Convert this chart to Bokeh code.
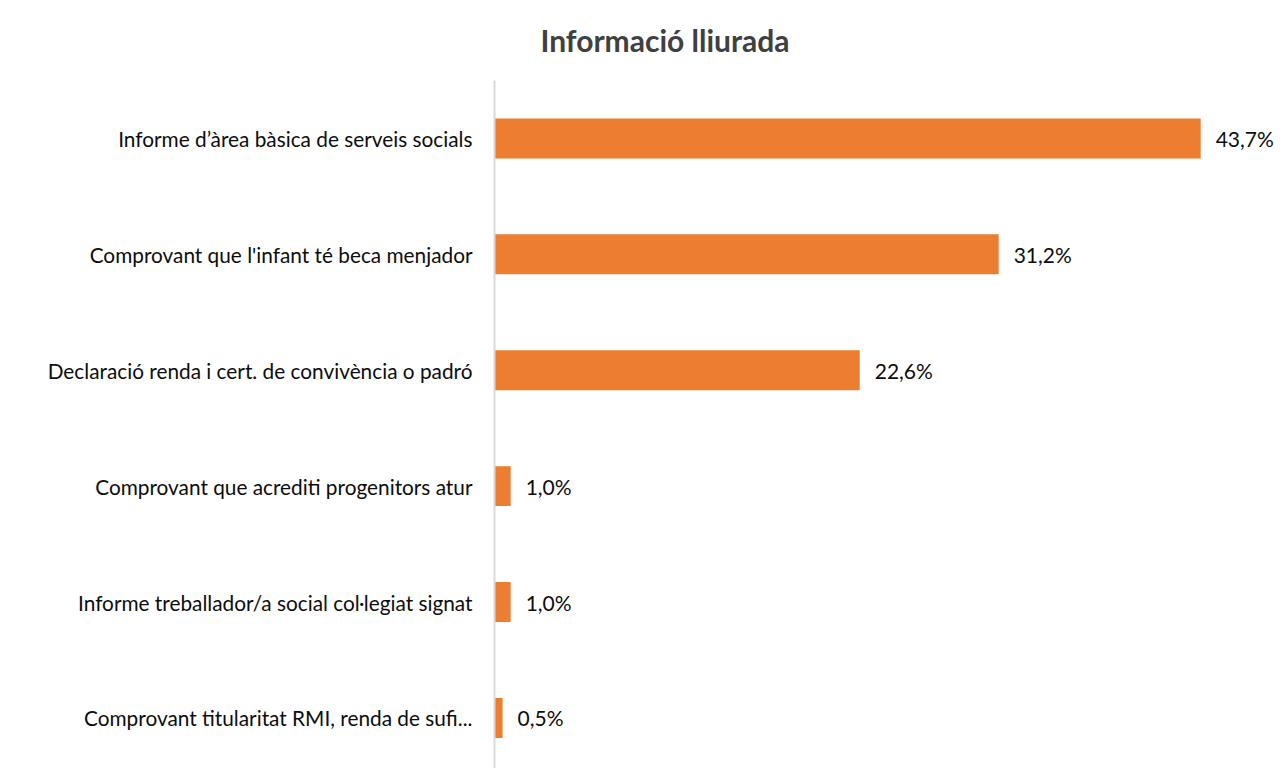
from bokeh.plotting import figure
from bokeh.models import ColumnDataSource, Range1d, FixedTicker, Title
from bokeh.core.properties import value
from bokeh.embed import file_html
from bokeh.resources import INLINE

categories = [
    "Informe d’àrea bàsica de serveis socials",
    "Comprovant que l'infant té beca menjador",
    "Declaració renda i cert. de convivència o padró",
    "Comprovant que acrediti progenitors atur",
    "Informe treballador/a social col·legiat signat",
    "Comprovant titularitat RMI, renda de sufi...",
]
values = [43.7, 31.2, 22.6, 1.0, 1.0, 0.5]
value_labels = ["43,7%", "31,2%", "22,6%", "1,0%", "1,0%", "0,5%"]
title_text = "Informació lliurada"

FONT = "Lato"
pos = list(range(len(categories)))
src = ColumnDataSource(dict(y=pos, v=values, lab=value_labels))

W, H = 1280, 768
left = 494
top = 77
frame_w = W - left
px_per = 16.16
frame_h = H - top
unit_px = 116.4

p = figure(width=W, height=H, output_backend="svg", toolbar_location=None,
           x_range=Range1d(0, frame_w / px_per),
           y_range=Range1d(-0.5 + frame_h / unit_px, -0.5),
           min_border_left=left, min_border_right=0, min_border_top=top,
           min_border_bottom=0, title=None)

p.hbar(y="y", left=0, right="v", height=0.345, source=src,
       fill_color="#ED7D31", line_color=None)
p.text(x="v", y="y", text="lab", source=src, x_offset=15,
       text_baseline="middle", text_align="left",
       text_font=value(FONT), text_font_size="21px", text_color="#0d0d0d")

p.xaxis.visible = False
p.grid.visible = False
p.outline_line_color = None
yax = p.yaxis[0]
yax.ticker = FixedTicker(ticks=pos)
yax.major_label_overrides = {i: c for i, c in enumerate(categories)}
yax.major_tick_line_color = None
yax.minor_tick_line_color = None
yax.axis_line_color = "#d9d9d9"
yax.axis_line_width = 2
yax.major_label_standoff = 16
yax.major_label_text_font = FONT
yax.major_label_text_font_size = "20.8px"
yax.major_label_text_color = "#0d0d0d"

t = Title(text=title_text, align="left", offset=46, vertical_align="top",
          text_font=FONT, text_font_size="30px", text_font_style="bold",
          text_color="#404040", standoff=42)
p.add_layout(t, "above")

open("out.html", "w").write(file_html(p, INLINE))
